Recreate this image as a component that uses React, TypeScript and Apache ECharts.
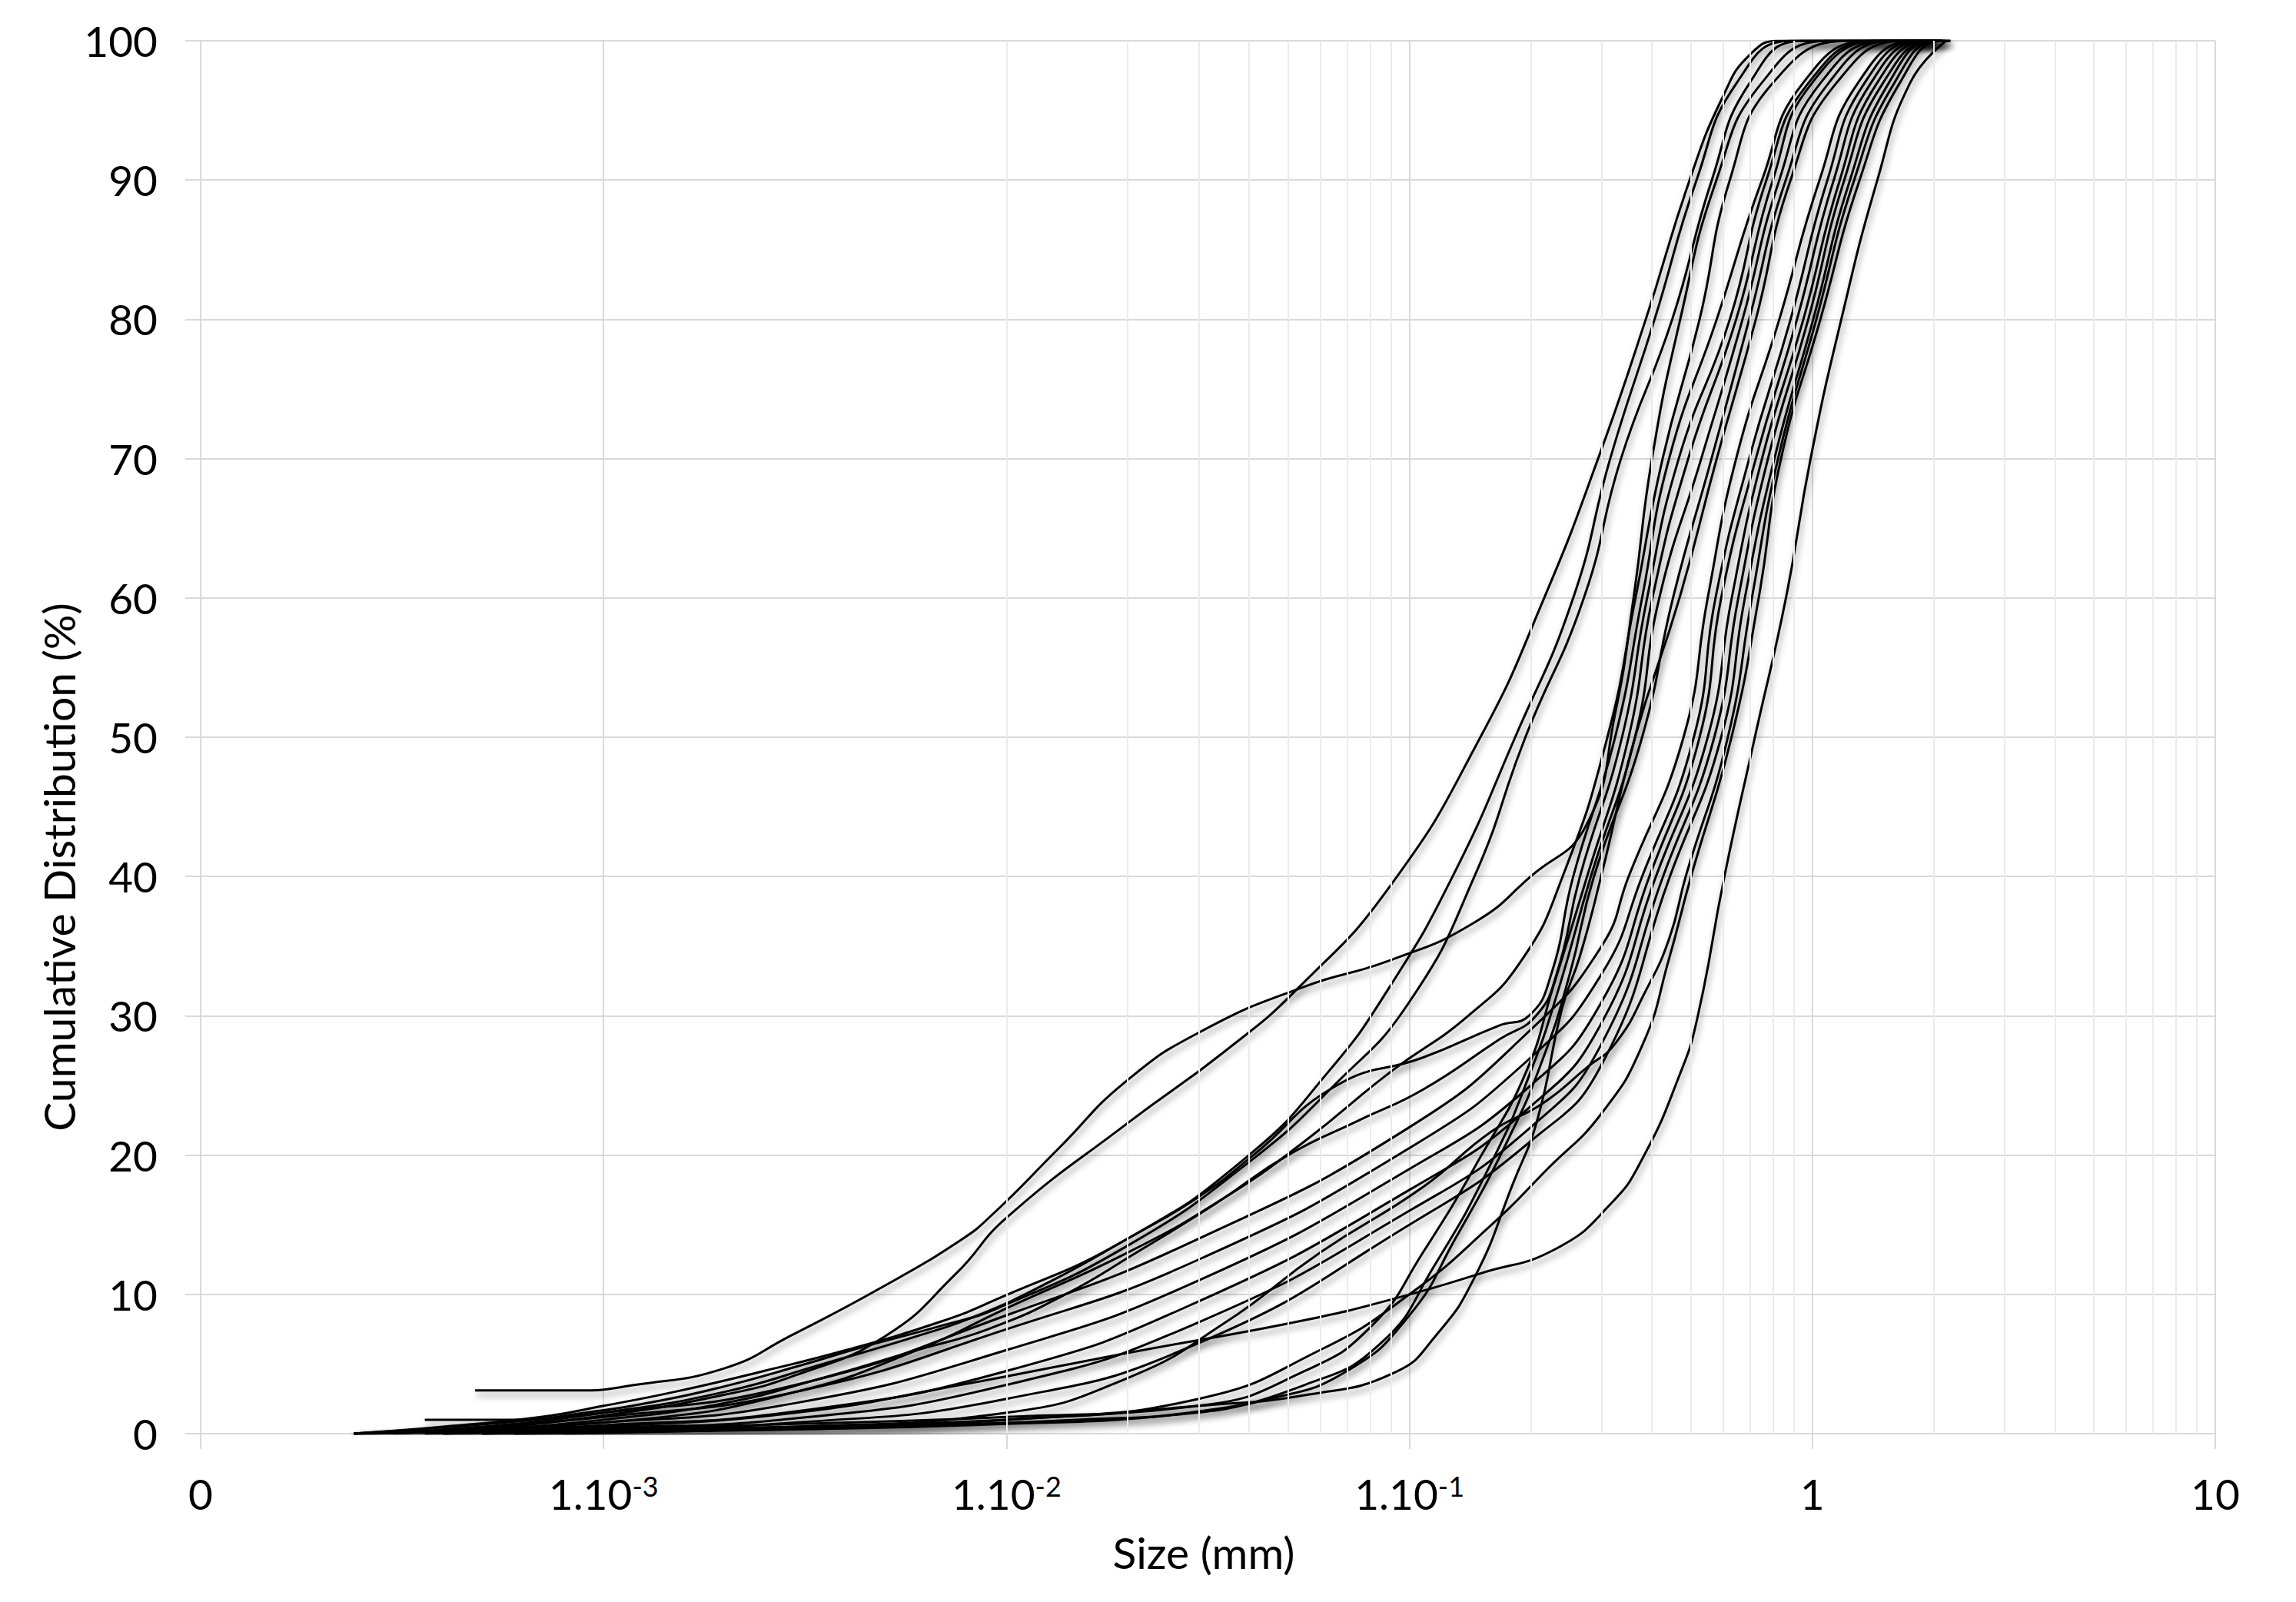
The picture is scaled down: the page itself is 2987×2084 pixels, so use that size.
import React, { useEffect, useRef } from "react";
import * as echarts from "echarts";

// Size (mm) vs cumulative distribution (%) – one array per sample curve
const curveC = [[0.00024,0],[0.0005,0.4],[0.001,1.3],[0.002,2.8],[0.003,4.2],[0.005,7],[0.0075,11.5],[0.01,15.5],[0.02,22.3],[0.035,27.5],[0.053,32],[0.09,39.4],[0.15,50],[0.216,60],[0.294,70],[0.386,80],[0.496,90],[0.6,96],[0.7,99],[0.83,100],[2.0,100]];
const curveU2 = [[0.00024,0],[0.0004,0.5],[0.0007,1.2],[0.001,2],[0.0015,3],[0.0025,4.5],[0.004,6],[0.0068,8],[0.0092,9.5],[0.02,14],[0.04,20],[0.063,26],[0.089,32],[0.128,40],[0.183,50],[0.255,60],[0.315,70],[0.406,80],[0.516,90],[0.65,97],[0.89,100],[2.0,100]];
const curveU3 = [[0.00036,1],[0.0006,1],[0.0009,1.5],[0.0014,2.4],[0.002,3.4],[0.003,4.8],[0.0045,6.3],[0.007,7.8],[0.0095,9],[0.02,13.5],[0.04,19.5],[0.065,25],[0.1,31],[0.145,40],[0.194,50],[0.271,60],[0.335,70],[0.449,80],[0.563,90],[0.7,97],[0.95,100],[2.0,100]];
const curveB = [[0.00048,3.1],[0.00086,3.1],[0.0012,3.5],[0.002,4.7],[0.0029,7],[0.0049,10.5],[0.0077,13.9],[0.0092,15.7],[0.0135,20.5],[0.0198,25.3],[0.0305,28.9],[0.055,32.1],[0.09,34],[0.145,36.7],[0.2,40],[0.275,43.7],[0.324,51.7],[0.36,60],[0.4,70],[0.47,80],[0.578,90],[0.75,97],[1.1,100],[2.0,100]];
const curveX = [[0.00024,0],[0.0012,1],[0.003,3],[0.006,6],[0.01,9],[0.02,13],[0.035,17],[0.055,21],[0.09,26],[0.14,30],[0.19,34],[0.24,40],[0.31,50],[0.364,60],[0.425,70],[0.525,80],[0.624,90],[0.8,97],[1.25,100],[2.0,100]];
const curveS1 = [[0.00024,0],[0.0005,0.5],[0.001,1.5],[0.002,3],[0.0035,5],[0.006,7],[0.0085,8.5],[0.013,11],[0.02,14],[0.03,17],[0.041,20],[0.066,25],[0.108,27],[0.167,29.3],[0.198,30],[0.225,33],[0.255,40],[0.324,50],[0.378,60],[0.441,70],[0.579,80],[0.75,90],[0.95,97],[1.4,100],[2.0,100]];
const curveS2 = [[0.00024,0],[0.0005,0.3],[0.001,1],[0.002,2.2],[0.0035,4],[0.006,6],[0.009,7.5],[0.014,10],[0.021,13],[0.033,16.5],[0.05,20],[0.075,22.5],[0.108,24.7],[0.167,28.3],[0.206,30],[0.232,33],[0.265,40],[0.337,50],[0.389,60],[0.466,70],[0.624,80],[0.769,90],[0.98,97],[1.45,100],[2.0,100]];
const curveSB1 = [[0.0004,0],[0.001,0.3],[0.003,0.7],[0.01,1.2],[0.03,2],[0.055,4.5],[0.081,7.8],[0.108,13],[0.151,20],[0.195,26],[0.227,32],[0.276,40],[0.35,50],[0.401,60],[0.492,70],[0.647,80],[0.798,90],[1.0,97],[1.5,100],[2.0,100]];
const curveSB2 = [[0.0005,0],[0.002,0.3],[0.006,0.6],[0.015,1],[0.03,1.6],[0.055,3.5],[0.085,6.5],[0.115,12],[0.16,19.5],[0.2,26],[0.235,32],[0.282,40],[0.363,50],[0.417,60],[0.53,70],[0.671,80],[0.828,90],[1.05,97],[1.55,100],[2.05,100]];
const curveSB3 = [[0.0006,0],[0.003,0.3],[0.01,0.7],[0.025,1.3],[0.045,2.5],[0.07,4.5],[0.1,8.5],[0.13,14],[0.175,21],[0.215,27],[0.25,33],[0.287,40],[0.378,50],[0.451,60],[0.562,70],[0.697,80],[0.859,90],[1.1,97],[1.6,100],[2.1,100]];
const curveL = [[0.0005,0],[0.003,0.5],[0.01,1],[0.03,2],[0.056,2.8],[0.092,4.4],[0.116,7],[0.145,11.2],[0.181,18],[0.208,22.6],[0.239,30.5],[0.265,34.3],[0.299,40],[0.363,50],[0.468,60],[0.579,70],[0.724,80],[0.883,90],[1.15,97],[1.7,100],[2.1,100]];
const curveM = [[0.0004,0],[0.001,0.5],[0.003,1.5],[0.0077,3.5],[0.02,5.8],[0.056,8.2],[0.0975,9.9],[0.15,11.5],[0.232,13.3],[0.316,16.5],[0.378,19.7],[0.469,25.8],[0.518,29.8],[0.605,40],[0.72,50],[0.86,60],[0.99,70],[1.18,80],[1.45,90],[1.75,97],[2.15,100]];
const curveG12 = [[0.00024,0],[0.001,1.5],[0.003,3.5],[0.01,8.5],[0.03,14],[0.1,22],[0.2,29],[0.3,35],[0.35,40],[0.479,50],[0.55,60],[0.647,70],[0.828,80],[1.042,90],[1.3,97],[1.8,100],[2.1,100]];
const curveG13 = [[0.0003,0],[0.001,1.2],[0.003,3],[0.01,7.5],[0.03,12.5],[0.1,20.5],[0.2,27],[0.3,33],[0.378,40],[0.508,50],[0.575,60],[0.697,70],[0.883,80],[1.09,90],[1.35,97],[1.85,100],[2.1,100]];
const curveG14 = [[0.00024,0],[0.001,0.8],[0.003,2.2],[0.01,6],[0.03,11],[0.1,19],[0.2,25],[0.3,31],[0.394,40],[0.525,50],[0.594,60],[0.724,70],[0.916,80],[1.13,90],[1.4,97],[1.9,100],[2.1,100]];
const curveG15 = [[0.00036,0],[0.001,0.6],[0.003,1.6],[0.01,4.5],[0.03,9.5],[0.1,17.5],[0.2,23.5],[0.3,29.5],[0.409,40],[0.55,50],[0.631,60],[0.75,70],[0.95,80],[1.17,90],[1.45,97],[1.95,100],[2.1,100]];
const curveG16 = [[0.0004,0],[0.001,0.4],[0.003,1.1],[0.01,3.5],[0.03,8],[0.1,16],[0.2,22],[0.3,28],[0.426,40],[0.571,50],[0.655,60],[0.776,70],[0.977,80],[1.2,90],[1.5,97],[2.0,100],[2.15,100]];
const curveG17 = [[0.0005,0],[0.001,0.3],[0.003,0.8],[0.01,2.5],[0.03,6.5],[0.1,15],[0.2,21],[0.3,26.5],[0.443,40],[0.594,50],[0.68,60],[0.805,70],[1.005,80],[1.24,90],[1.55,97],[2.0,100],[2.2,100]];
const curveG18 = [[0.0006,0],[0.003,0.5],[0.01,1.5],[0.02,4],[0.035,8],[0.06,13],[0.108,17.7],[0.16,21.7],[0.214,23.7],[0.276,26.3],[0.324,28],[0.386,31.8],[0.442,35.6],[0.485,40],[0.617,50],[0.708,60],[0.822,70],[1.023,80],[1.27,90],[1.6,97],[2.05,100],[2.2,100]];
const curveG19 = [[0.0008,0],[0.003,0.4],[0.01,1],[0.03,2.5],[0.06,6],[0.1,10],[0.16,15],[0.22,19],[0.3,23],[0.38,28],[0.44,34],[0.5,40],[0.63,50],[0.736,60],[0.836,70],[1.047,80],[1.31,90],[1.65,97],[2.1,100],[2.2,100]];

const curves = [curveC, curveU2, curveU3, curveB, curveX, curveS1, curveS2, curveSB1, curveSB2, curveSB3, curveL, curveM, curveG12, curveG13, curveG14, curveG15, curveG16, curveG17, curveG18, curveG19];

// X tick labels (log axis decades)
const xTickLabels: Record<string, string> = {
  "0.0001": "0",
  "0.001": "{b|1.10}{s|-3}",
  "0.01": "{b|1.10}{s|-2}",
  "0.1": "{b|1.10}{s|-1}",
  "1": "1",
  "10": "10",
};

const X_TITLE = "Size (mm)";
const Y_TITLE = "Cumulative Distribution (%)";

const FONT = "Lato";
const GRID_MAJOR = "#d9d9d9";
const GRID_MINOR = "#ebebeb";

export default function App() {
  const ref = useRef<HTMLDivElement>(null);

  useEffect(() => {
    if (!ref.current) return;
    const chart = echarts.init(ref.current, undefined, { renderer: "svg" });

    const minorPositions: number[] = [];
    for (let e = -4; e <= 0; e++) {
      for (let m = 2; m <= 9; m++) {
        minorPositions.push(Number((m * Math.pow(10, e)).toPrecision(3)));
      }
    }

    const lineSeries = curves.map((c, i) => ({
      type: "line",
      name: "s" + i,
      data: c,
      showSymbol: false,
      symbol: "none",
      smooth: 0.5,
      silent: true,
      z: 3,
      lineStyle: {
        color: "#000",
        width: 3,
        shadowColor: "rgba(0,0,0,0.45)",
        shadowBlur: 8,
        shadowOffsetX: 2,
        shadowOffsetY: 6,
      },
      emphasis: { disabled: true },
    }));

    const option: any = {
      animation: false,
      backgroundColor: "#fff",
      textStyle: { fontFamily: FONT },
      grid: { left: 261, right: 105, top: 53, bottom: 219 },
      xAxis: {
        type: "log",
        logBase: 10,
        min: 0.0001,
        max: 10,
        axisLine: { show: false },
        axisTick: { show: true, length: 20, lineStyle: { color: GRID_MAJOR, width: 2 } },
        splitLine: { show: true, lineStyle: { color: GRID_MAJOR, width: 2 } },
        axisLabel: {
          margin: 50,
          color: "#000",
          fontFamily: FONT,
          fontSize: 55,
          formatter: (v: number) => {
            const key = String(Number(v.toPrecision(3)));
            return xTickLabels[key] ?? "";
          },
          rich: {
            b: { fontFamily: FONT, fontSize: 55, color: "#000" },
            s: { fontFamily: FONT, fontSize: 36, color: "#000", verticalAlign: "top" },
          },
        },
      },
      yAxis: {
        type: "value",
        min: 0,
        max: 100,
        interval: 10,
        axisLine: { show: false },
        axisTick: { show: true, length: 20, lineStyle: { color: GRID_MAJOR, width: 2 } },
        splitLine: { show: true, lineStyle: { color: GRID_MAJOR, width: 2 } },
        axisLabel: { margin: 56, color: "#000", fontFamily: FONT, fontSize: 55 },
      },
      graphic: [
        {
          type: "text",
          x: 1566,
          y: 2019,
          silent: true,
          style: {
            text: X_TITLE,
            font: `57px ${FONT}`,
            fill: "#000",
            align: "center",
            verticalAlign: "middle",
            textAlign: "center",
            textVerticalAlign: "middle",
          },
        },
        {
          type: "text",
          x: 76,
          y: 1128,
          rotation: Math.PI / 2,
          silent: true,
          style: {
            text: Y_TITLE,
            font: `57px ${FONT}`,
            fill: "#000",
            align: "center",
            verticalAlign: "middle",
            textAlign: "center",
            textVerticalAlign: "middle",
          },
        },
      ],
      series: [
        {
          type: "line",
          name: "minor-grid",
          data: [],
          z: 1,
          silent: true,
          markLine: {
            silent: true,
            animation: false,
            symbol: ["none", "none"],
            label: { show: false },
            emphasis: { disabled: true },
            lineStyle: { color: GRID_MINOR, width: 2, type: "solid" },
            data: minorPositions.map((v) => ({ xAxis: v })),
          },
        },
        ...lineSeries,
      ],
    };

    chart.setOption(option);
    return () => chart.dispose();
  }, []);

  return (
    <div
      ref={ref}
      style={{ position: "fixed", left: 0, top: 0, width: 2987, height: 2084, background: "#fff" }}
    />
  );
}
